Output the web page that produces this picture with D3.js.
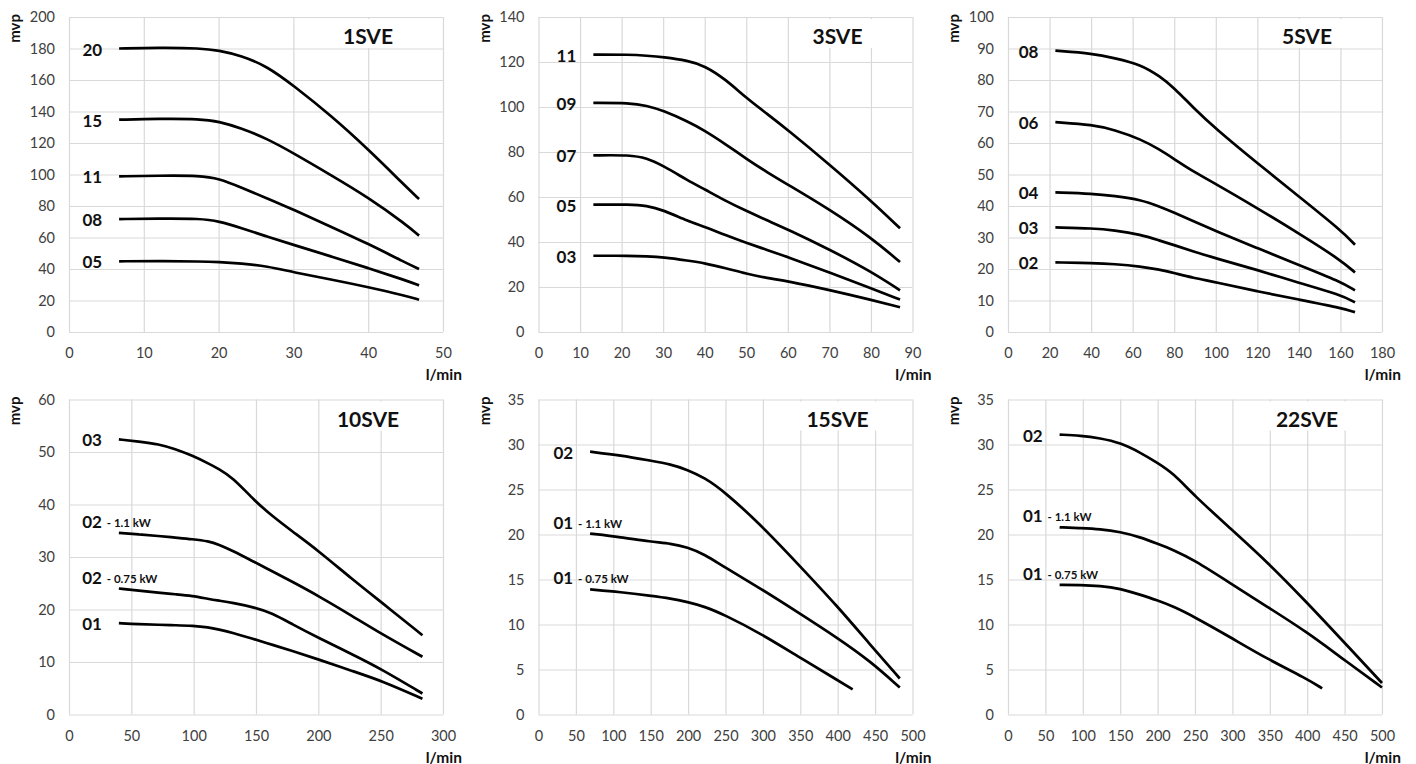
<!DOCTYPE html>
<html>
  <head>
    <meta charset="utf-8" />
    <title>SVE pump curves</title>
    <style>
      body {
        margin: 0;
        background: #fff;
      }
      svg {
        font-family: Lato, 'Open Sans', sans-serif;
      }
    </style>
    <script src="https://d3js.org/d3.v7.min.js"></script>
  </head>
  <body>
    <svg id="chart" width="1416" height="764"></svg>

    <script>
      // ---- 1SVE ----
      var xTicks1 = [0, 10, 20, 30, 40, 50];
      var yTicks1 = [0, 20, 40, 60, 80, 100, 120, 140, 160, 180, 200];
      var flow1 = [6.7, 12, 17.6, 20, 23, 26.5, 30, 35, 40, 45, 46.8];
      var h1_20 = [180, 180.5, 180.2, 178.8, 175.5, 168.7, 156.5, 137.5, 116, 92.5, 84.4];
      var h1_15 = [134.8, 135.4, 135.3, 133.7, 129.5, 122.7, 113.6, 99.7, 85.5, 68.5, 61.2];
      var h1_11 = [98.8, 99.3, 99.3, 97.5, 91.9, 84.8, 77.7, 66.9, 56, 44, 40];
      var h1_08 = [71.7, 72, 72, 70.4, 66.1, 60.5, 55.4, 48, 40.6, 32.8, 29.6];
      var h1_05 = [44.9, 45, 44.8, 44.4, 43.5, 41.8, 37.9, 33.4, 28.5, 23, 20.5];

      // ---- 3SVE ----
      var xTicks3 = [0, 10, 20, 30, 40, 50, 60, 70, 80, 90];
      var yTicks3 = [0, 20, 40, 60, 80, 100, 120, 140];
      var flow3 = [13.2, 22, 26, 30, 36, 40, 45, 50, 55, 60, 70, 80, 87];
      var h3_11 = [123.3, 123.3, 122.8, 122.2, 120.6, 118.3, 112.3, 104, 97, 89.8, 74.5, 58.4, 46.1];
      var h3_09 = [101.8, 101.8, 100.6, 98.4, 93.5, 89.5, 83.5, 77, 71, 65.5, 54.5, 42, 31.1];
      var h3_07 = [78.5, 78.7, 77.3, 73.9, 67.3, 63.4, 58.3, 53.8, 49.6, 45.6, 36.7, 26.9, 18.5];
      var h3_05 = [56.6, 56.7, 56.2, 54.2, 49.3, 46.8, 43, 39.6, 36.5, 33.3, 26.5, 19.4, 14.4];
      var h3_03 = [33.9, 33.9, 33.6, 33.2, 31.7, 30.6, 28.4, 25.9, 24, 22.6, 18.7, 14.3, 11];

      // ---- 5SVE ----
      var xTicks5 = [0, 20, 40, 60, 80, 100, 120, 140, 160, 180];
      var yTicks5 = [0, 10, 20, 30, 40, 50, 60, 70, 80, 90, 100];
      var flow5 = [22.8, 41, 51, 64, 73, 80, 89, 100, 120, 140, 160, 167];
      var h5_08 = [89.3, 88.4, 87, 84.9, 81.2, 77.5, 71.3, 64.5, 53.6, 43, 32.4, 27.7];
      var h5_06 = [66.6, 65.8, 64.2, 61.2, 57.9, 54.9, 51, 47, 39.3, 31.3, 22.9, 18.9];
      var h5_04 = [44.3, 43.9, 43.2, 42, 39.8, 37.9, 35.2, 32.1, 26.6, 21.3, 16, 13.2];
      var h5_03 = [33.2, 32.9, 32.3, 30.9, 29, 27.6, 25.6, 23.4, 19.7, 15.6, 11.8, 9.4];
      var h5_02 = [22.1, 21.9, 21.6, 20.8, 19.8, 18.7, 17.2, 15.8, 12.9, 10.3, 7.7, 6.3];

      // ---- 10SVE ----
      var xTicks10 = [0, 50, 100, 150, 200, 250, 300];
      var yTicks10 = [0, 10, 20, 30, 40, 50, 60];
      var flow10 = [40, 56, 72, 85, 99, 112, 120, 131, 149, 163, 179, 200, 227, 251, 283.5];
      var h10_03 = [52.4, 52, 51.5, 50.6, 49.3, 47.8, 46.8, 45.2, 40.7, 37.8, 34.9, 31.2, 25.8, 21.3, 15.1];
      var h10_02b = [34.6, 34.3, 34, 33.7, 33.4, 33, 32.4, 31.2, 29, 27.3, 25.3, 22.6, 18.8, 15.3, 11];
      var h10_02a = [24, 23.6, 23.2, 22.9, 22.6, 22, 21.7, 21.3, 20.4, 19.3, 17.2, 14.6, 11.5, 8.6, 4];
      var h10_01 = [17.4, 17.2, 17.1, 17, 16.9, 16.6, 16.2, 15.6, 14.3, 13.3, 12.1, 10.5, 8.3, 6.4, 3];

      // ---- 15SVE ----
      var xTicks15 = [0, 50, 100, 150, 200, 250, 300, 350, 400, 450, 500];
      var yTicks15 = [0, 5, 10, 15, 20, 25, 30, 35];
      var flow15 = [69, 110, 150, 177, 199, 222, 248, 297, 346, 400, 444, 483];
      var flow15s = [69, 110, 150, 177, 199, 222, 248, 297, 346, 400, 420];
      var h15_02 = [29.2, 28.8, 28.2, 27.8, 27.2, 26.3, 24.8, 21.1, 16.8, 12, 7.7, 4];
      var h15_01b = [20.1, 19.7, 19.2, 19, 18.6, 17.8, 16.4, 14, 11.4, 8.5, 5.9, 3];
      var h15_01a = [13.9, 13.6, 13.2, 12.9, 12.5, 12, 11.1, 9, 6.5, 3.8, 2.8];

      // ---- 22SVE ----
      var xTicks22 = [0, 50, 100, 150, 200, 250, 300, 350, 400, 450, 500];
      var yTicks22 = [0, 5, 10, 15, 20, 25, 30, 35];
      var flow22 = [69, 97, 123, 150, 177, 199, 221, 248, 297, 346, 399, 444, 500];
      var flow22s = [69, 97, 123, 150, 177, 199, 221, 248, 297, 346, 399, 420];
      var h22_02 = [31.1, 31, 30.7, 30.2, 29.1, 28, 26.8, 24.4, 20.7, 17, 12.5, 8.5, 3.5];
      var h22_01b = [20.8, 20.7, 20.6, 20.3, 19.7, 19, 18.3, 17.2, 14.6, 12, 9.2, 6.4, 3];
      var h22_01a = [14.4, 14.4, 14.3, 14, 13.3, 12.7, 12, 10.9, 8.6, 6.2, 4, 2.9];

      var panels = [
        { title: '1SVE', xTicks: xTicks1, yTicks: yTicks1, series: [
          { label: '20', x: flow1, y: h1_20 },
          { label: '15', x: flow1, y: h1_15 },
          { label: '11', x: flow1, y: h1_11 },
          { label: '08', x: flow1, y: h1_08 },
          { label: '05', x: flow1, y: h1_05 } ] },
        { title: '3SVE', xTicks: xTicks3, yTicks: yTicks3, series: [
          { label: '11', x: flow3, y: h3_11 },
          { label: '09', x: flow3, y: h3_09 },
          { label: '07', x: flow3, y: h3_07 },
          { label: '05', x: flow3, y: h3_05 },
          { label: '03', x: flow3, y: h3_03 } ] },
        { title: '5SVE', xTicks: xTicks5, yTicks: yTicks5, series: [
          { label: '08', x: flow5, y: h5_08 },
          { label: '06', x: flow5, y: h5_06 },
          { label: '04', x: flow5, y: h5_04 },
          { label: '03', x: flow5, y: h5_03 },
          { label: '02', x: flow5, y: h5_02 } ] },
        { title: '10SVE', xTicks: xTicks10, yTicks: yTicks10, series: [
          { label: '03', x: flow10, y: h10_03 },
          { label: '02', kw: '- 1.1 kW', x: flow10, y: h10_02b },
          { label: '02', kw: '- 0.75 kW', x: flow10, y: h10_02a },
          { label: '01', x: flow10, y: h10_01 } ] },
        { title: '15SVE', xTicks: xTicks15, yTicks: yTicks15, series: [
          { label: '02', x: flow15, y: h15_02 },
          { label: '01', kw: '- 1.1 kW', x: flow15, y: h15_01b },
          { label: '01', kw: '- 0.75 kW', x: flow15s, y: h15_01a } ] },
        { title: '22SVE', xTicks: xTicks22, yTicks: yTicks22, series: [
          { label: '02', x: flow22, y: h22_02 },
          { label: '01', kw: '- 1.1 kW', x: flow22, y: h22_01b },
          { label: '01', kw: '- 0.75 kW', x: flow22s, y: h22_01a } ] },
      ];

      var svg = d3.select('#chart');
      var colLeft = [69, 538.5, 1008],
        rowTop = [17, 399.5],
        w = 374,
        h = 315;

      panels.forEach(function (p, i) {
        var left = colLeft[i % 3],
          top = rowTop[Math.floor(i / 3)];

        var x = d3
          .scaleLinear()
          .domain(d3.extent(p.xTicks))
          .range([0, w]);
        var y = d3
          .scaleLinear()
          .domain(d3.extent(p.yTicks))
          .range([h, 0]);

        var g = svg
          .append('g')
          .attr('transform', `translate(${left},${top})`);

        var yAxis = g
          .append('g')
          .call(
            d3
              .axisLeft(y)
              .tickValues(p.yTicks)
              .tickSizeInner(-w)
              .tickSizeOuter(0)
              .tickPadding(14)
          );
        var xAxis = g
          .append('g')
          .attr('transform', `translate(0,${h})`)
          .call(
            d3
              .axisBottom(x)
              .tickValues(p.xTicks)
              .tickSizeInner(-h)
              .tickSizeOuter(0)
              .tickPadding(16)
          );
        [xAxis, yAxis].forEach(function (a) {
          a.select('.domain').remove();
          a.selectAll('line').attr('stroke', '#d9d9d9').attr('stroke-width', 1.2);
          a.selectAll('text')
            .attr('fill', '#404040')
            .style('font-size', '14.5px')
            .style('font-family', 'Lato, sans-serif');
        });

        // white box behind title
        g.append('rect')
          .attr('x', w * 0.69)
          .attr('y', 2)
          .attr('width', w * 0.31 - 1.5)
          .attr('height', 29)
          .attr('fill', '#fff');

        g.append('text')
          .attr('x', 299)
          .attr('y', 27)
          .attr('text-anchor', 'middle')
          .style('font-size', '21px')
          .style('font-weight', 'bold')
          .attr('fill', '#111')
          .text(p.title);

        var line = d3
          .line()
          .x((d) => x(d[0]))
          .y((d) => y(d[1]))
          .curve(d3.curveBasis);

        p.series.forEach(function (s) {
          var pts = s.x.map((v, j) => [v, s.y[j]]);
          g.append('path')
            .attr('d', line(pts))
            .attr('fill', 'none')
            .attr('stroke', '#000')
            .attr('stroke-width', 2.7);

          var lx = x(s.x[0]) - 17,
            ly = y(s.y[0]) + (s.kw ? -5 : 7);
          g.append('text')
            .attr('x', lx)
            .attr('y', ly)
            .attr('text-anchor', 'end')
            .style('font-size', '17px')
            .style('font-weight', 'bold')
            .attr('fill', '#111')
            .text(s.label);
          if (s.kw) {
            g.append('text')
              .attr('x', lx + 5)
              .attr('y', ly - 1)
              .style('font-size', '11.5px')
              .style('font-weight', 'bold')
              .attr('fill', '#111')
              .text(s.kw);
          }
        });

        g.append('text')
          .attr('transform', `translate(-49,-3) rotate(-90)`)
          .attr('text-anchor', 'end')
          .style('font-size', '15px')
          .style('font-weight', 'bold')
          .attr('fill', '#111')
          .text('mvp');

        g.append('text')
          .attr('x', w + 19)
          .attr('y', h + 48)
          .attr('text-anchor', 'end')
          .style('font-size', '15.5px')
          .style('font-weight', 'bold')
          .attr('fill', '#111')
          .text('l/min');
      });
    </script>
  </body>
</html>
